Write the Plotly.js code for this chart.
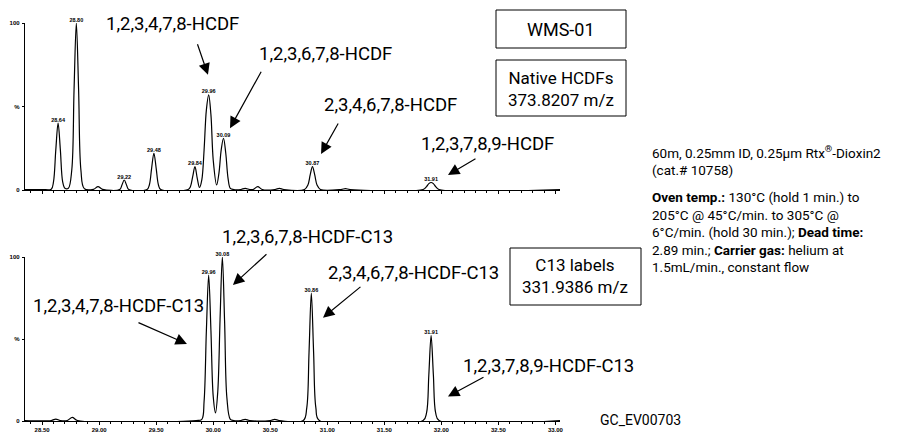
<!DOCTYPE html>
<html>
<head>
<meta charset="utf-8">
<script src="https://cdn.plot.ly/plotly-3.0.1.min.js"></script>
<style>html,body{margin:0;padding:0;background:#fff;}#chart{width:908px;height:432px;}</style>
</head>
<body>
<div id="chart"></div>
<script>
// ---- Data ----
// Top panel: Native HCDFs 373.8207 m/z (retention time in min, relative intensity %)
const topTime = [28.35, 28.50, 28.58, 28.60, 28.62, 28.64, 28.66, 28.68, 28.70,
  28.73, 28.76, 28.78, 28.80, 28.82, 28.84, 28.87, 28.95, 28.99, 29.03,
  29.18, 29.20, 29.22, 29.24, 29.26, 29.42, 29.44, 29.46, 29.48, 29.50, 29.52, 29.54,
  29.78, 29.80, 29.82, 29.84, 29.86, 29.88, 29.90, 29.92, 29.94, 29.96, 29.98, 30.00,
  30.03, 30.05, 30.07, 30.09, 30.11, 30.13, 30.15, 30.18, 30.24, 30.28, 30.32,
  30.35, 30.39, 30.43, 30.54, 30.58, 30.62, 30.80, 30.83, 30.85, 30.87, 30.89, 30.91, 30.94,
  31.12, 31.16, 31.20, 31.84, 31.87, 31.89, 31.91, 31.93, 31.95, 31.98, 33.04];
const topIntensity = [0.3, 0.3, 0.5, 5, 24, 40, 24, 5, 1,
  1, 12, 60, 100, 60, 12, 0.8, 0.4, 2, 0.4,
  0.3, 3, 6, 3, 0.3, 0.3, 3, 13, 22, 13, 3, 0.3,
  0.3, 2, 8, 14, 7, 1.5, 6, 24, 48, 57, 45, 18,
  3, 10, 24, 31, 22, 7, 1, 0.3, 0.3, 1, 0.3,
  0.3, 2, 0.3, 0.3, 1, 0.3, 0.3, 3, 9, 14, 9, 3, 0.3,
  0.3, 0.8, 0.3, 0.3, 2, 3.8, 4.5, 3.8, 2, 0.3, 0.3];
const topPeakTimes = [28.64, 28.80, 29.22, 29.48, 29.84, 29.96, 30.09, 30.87, 31.91];
const topPeakHeights = [40, 100, 6, 22, 14, 57, 31, 14, 4.5];
const topPeakLabels = ["28.64", "28.80", "29.22", "29.48", "29.84", "29.96", "30.09", "30.87", "31.91"];

// Bottom panel: C13 labels 331.9386 m/z
const botTime = [28.35, 28.58, 28.62, 28.66, 28.72, 28.765, 28.81, 29.85, 29.90, 29.92, 29.94,
  29.96, 29.98, 30.00, 30.02, 30.04, 30.06, 30.08, 30.10, 30.12, 30.15, 30.18,
  30.24, 30.28, 30.32, 30.50, 30.54, 30.58, 30.79, 30.82, 30.84, 30.86, 30.88, 30.90, 30.93,
  31.84, 31.87, 31.89, 31.91, 31.93, 31.95, 31.98, 33.04];
const botIntensity = [0.3, 0.3, 1.2, 0.3, 0.3, 2.2, 0.3, 0.3, 1, 12, 55,
  89, 55, 15, 5, 18, 62, 100, 60, 14, 1, 0.3,
  0.3, 1, 0.3, 0.3, 1, 0.3, 0.3, 8, 42, 78, 42, 8, 0.3,
  0.3, 5, 28, 52, 28, 5, 0.3, 0.3];
const botPeakTimes = [29.96, 30.08, 30.86, 31.91];
const botPeakHeights = [89, 100, 78, 52];
const botPeakLabels = ["29.96", "30.08", "30.86", "31.91"];

// Axis ticks
const xTickVals = [28.5, 29.0, 29.5, 30.0, 30.5, 31.0, 31.5, 32.0, 32.5, 33.0];
const xTickText = ["28.50", "29.00", "29.50", "30.00", "30.50", "31.00", "31.50", "32.00", "32.50", "33.00"];
const yTickVals = [0, 50, 100];
const yTickText = ["0", "%", "100"];

// Compound annotations
const topNames = ["1,2,3,4,7,8-HCDF", "1,2,3,6,7,8-HCDF", "2,3,4,6,7,8-HCDF", "1,2,3,7,8,9-HCDF"];
const botNames = ["1,2,3,6,7,8-HCDF-C13", "1,2,3,4,7,8-HCDF-C13", "2,3,4,6,7,8-HCDF-C13", "1,2,3,7,8,9-HCDF-C13"];

// ---- Layout helpers ----
const W = 908, H = 432;
const px = v => v / W;
const py = v => 1 - v / H;
const LABELFONT = "Roboto, Liberation Sans, Arial, sans-serif";
const TICKFONT = {family: "Liberation Sans, Arial, sans-serif", size: 6, color: "#000", weight: "bold"};
const PEAKFONT = {family: "Liberation Sans, Arial, sans-serif", size: 5.5, color: "#000", weight: "bold"};

const lineStyle = {color: "#000", width: 1.2, shape: "spline", smoothing: 1};

const traces = [
  {x: topTime, y: topIntensity, xaxis: "x2", yaxis: "y2", mode: "lines", line: lineStyle, hoverinfo: "x+y"},
  {x: topPeakTimes, y: topPeakHeights, text: topPeakLabels, xaxis: "x2", yaxis: "y2", mode: "text",
   textposition: "top center", textfont: PEAKFONT, hoverinfo: "skip", cliponaxis: false},
  {x: botTime, y: botIntensity, xaxis: "x", yaxis: "y", mode: "lines", line: lineStyle, hoverinfo: "x+y"},
  {x: botPeakTimes, y: botPeakHeights, text: botPeakLabels, xaxis: "x", yaxis: "y", mode: "text",
   textposition: "top center", textfont: PEAKFONT, hoverinfo: "skip", cliponaxis: false}
];

const xBase = {
  range: [28.35, 33.04], domain: [px(25), px(560)], showgrid: false, zeroline: false,
  showline: true, linecolor: "#000", linewidth: 1.2, ticks: "outside", ticklen: 3, tickwidth: 1, tickcolor: "#000",
  tickvals: xTickVals, ticktext: xTickText, tickfont: TICKFONT, automargin: false, fixedrange: true, ticklabelstandoff: 0,
  minor: {dtick: 0.1, tick0: 28.5, ticks: "outside", ticklen: 2, tickwidth: 1, tickcolor: "#000", showgrid: false}
};
const yBase = {
  range: [0, 100], showgrid: false, zeroline: false, showline: true, linecolor: "#000", linewidth: 1.2,
  ticks: "outside", ticklen: 2, tickwidth: 1, tickcolor: "#000", tickvals: yTickVals, ticktext: yTickText,
  tickfont: TICKFONT, automargin: false, fixedrange: true, ticklabelstandoff: 1
};

const layout = {
  width: W, height: H, margin: {l: 0, r: 0, t: 0, b: 0}, showlegend: false,
  paper_bgcolor: "#fff", plot_bgcolor: "#fff",
  xaxis: Object.assign({}, xBase, {anchor: "y", showticklabels: true}),
  yaxis: Object.assign({}, yBase, {domain: [py(421), py(257)], anchor: "x"}),
  xaxis2: Object.assign({}, xBase, {anchor: "y2", showticklabels: false}),
  yaxis2: Object.assign({}, yBase, {domain: [py(190), py(23)], anchor: "x2"}),
  shapes: [
    {type: "rect", xref: "paper", yref: "paper", x0: px(496), x1: px(626), y0: py(10), y1: py(48), line: {color: "#000", width: 1}},
    {type: "rect", xref: "paper", yref: "paper", x0: px(496), x1: px(626), y0: py(60), y1: py(116), line: {color: "#000", width: 1}},
    {type: "rect", xref: "paper", yref: "paper", x0: px(510), x1: px(641), y0: py(248), y1: py(305), line: {color: "#000", width: 1}}
  ],
  annotations: []
};

const A = layout.annotations;
function label(text, cx, cy, size, extra) {
  A.push(Object.assign({text: text, xref: "paper", yref: "paper", x: px(cx), y: py(cy), xanchor: "center", yanchor: "middle",
    showarrow: false, font: {family: LABELFONT, size: size, color: "#000"}}, extra || {}));
}
function arrow(xr, yr, x, y, ax, ay) {
  A.push({text: "", xref: xr, yref: yr, x: x, y: y, ax: ax, ay: ay, showarrow: true,
    arrowhead: 2, arrowsize: 1.9, arrowwidth: 1.2, arrowcolor: "#000", standoff: 0});
}

// Top panel names and arrows
label(topNames[0], 172, 24, 18.5);
label(topNames[1], 325, 54, 18.5);
label(topNames[2], 390, 105, 18.5);
label(topNames[3], 487, 144, 18.5);
arrow("x2", "y2", 29.954, 69, -11, -32);
arrow("x2", "y2", 30.147, 37, 32, -58);
arrow("x2", "y2", 30.945, 21.6, 18, -32);
arrow("x2", "y2", 32.058, 9, 29, -17);

// Bottom panel names and arrows
label(botNames[0], 307, 237, 18.5);
label(botNames[1], 118, 306, 18.5);
label(botNames[2], 413, 273, 18.5);
label(botNames[3], 548, 366, 18.5);
arrow("x", "y", 30.173, 83, 35, -32);
arrow("x", "y", 29.770, 47, -50, -22);
arrow("x", "y", 30.962, 63, 39, -32);
arrow("x", "y", 32.058, 15, 37, -20);

// Boxes text
label("WMS-01", 561, 30, 18);
label("Native HCDFs<br>373.8207 m/z", 561, 89, 17);
label("C13 labels<br>331.9386 m/z", 575, 276, 17);

// Column and conditions text
label("60m, 0.25mm ID, 0.25µm Rtx<sup>®</sup>-Dioxin2<br>(cat.# 10758)", 650, 161, 13.5, {xanchor: "left", align: "left"});
label("<b>Oven temp.:</b> 130°C (hold 1 min.) to<br>205°C @ 45°C/min. to 305°C @<br>6°C/min. (hold 30 min.); <b>Dead time:</b><br>2.89 min.; <b>Carrier gas:</b> helium at<br>1.5mL/min., constant flow",
  650, 232, 13.5, {xanchor: "left", align: "left"});
label("GC_EV00703", 640, 420, 14);

Plotly.newPlot("chart", traces, layout, {staticPlot: true, displayModeBar: false});
</script>
</body>
</html>
